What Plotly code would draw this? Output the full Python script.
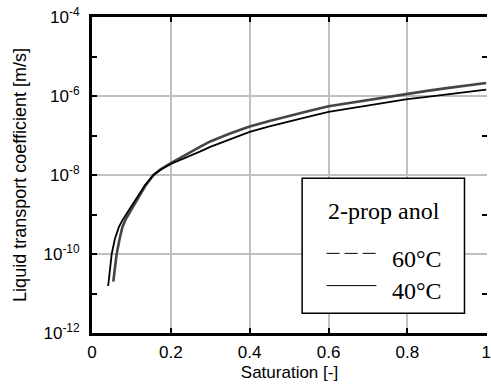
import plotly.graph_objects as go

# Saturation [-] and log10 of liquid transport coefficient [m/s]
sat_40C = [0.041, 0.045, 0.05, 0.058, 0.068, 0.078, 0.088, 0.099, 0.11, 0.12, 0.135, 0.156, 0.175,
           0.2, 0.225, 0.25, 0.275, 0.3, 0.35, 0.4, 0.45, 0.5, 0.55, 0.6, 0.65, 0.7, 0.75, 0.8,
           0.85, 0.9, 0.95, 1.0]
log_k_40C = [-10.81, -10.45, -10.0, -9.62, -9.32, -9.13, -8.98, -8.81, -8.64, -8.48, -8.25, -8.0,
             -7.86, -7.72, -7.62, -7.52, -7.40, -7.29, -7.09, -6.91, -6.77, -6.64, -6.52, -6.40,
             -6.32, -6.24, -6.16, -6.08, -6.02, -5.96, -5.90, -5.84]

sat_60C = [0.054, 0.058, 0.0625, 0.07, 0.077, 0.085, 0.094, 0.103, 0.1125, 0.12, 0.135, 0.156,
           0.175, 0.2, 0.225, 0.25, 0.275, 0.3, 0.35, 0.4, 0.45, 0.5, 0.55, 0.6, 0.65, 0.7, 0.75,
           0.8, 0.85, 0.9, 0.95, 1.0]
log_k_60C = [-10.70, -10.35, -10.0, -9.62, -9.32, -9.13, -8.98, -8.80, -8.64, -8.52, -8.28, -8.0,
             -7.85, -7.70, -7.55, -7.42, -7.28, -7.15, -6.95, -6.77, -6.63, -6.50, -6.38, -6.26,
             -6.18, -6.10, -6.02, -5.94, -5.87, -5.80, -5.73, -5.67]

x_ticks = [0, 0.2, 0.4, 0.6, 0.8, 1.0]
x_ticktext = ["0", "0.2", "0.4", "0.6", "0.8", "1"]
y_major_exp = [-12, -10, -8, -6, -4]
y_minor_exp = [-11, -9, -7, -5]

legend_title = "2-prop anol"
legend_labels = ["60°C", "40°C"]

k_40C = [10 ** e for e in log_k_40C]
k_60C = [10 ** e for e in log_k_60C]

fig = go.Figure()
fig.add_trace(go.Scatter(x=sat_60C, y=k_60C, mode="lines",
                         line=dict(color="#454545", width=2.6), showlegend=False))
fig.add_trace(go.Scatter(x=sat_40C, y=k_40C, mode="lines",
                         line=dict(color="#000000", width=1.8), showlegend=False))
# dummy trace for right-hand minor ticks axis
fig.add_trace(go.Scatter(x=[None], y=[None], yaxis="y2", showlegend=False))

font_sans = "Arial, Liberation Sans, sans-serif"
font_serif = "Times New Roman, Liberation Serif, serif"

fig.update_layout(
    width=491, height=389,
    margin=dict(l=92, r=0, t=17, b=56),
    paper_bgcolor="white", plot_bgcolor="white",
    font=dict(family=font_sans, size=16, color="black"),
    xaxis=dict(
        range=[0, 1.002], tickvals=x_ticks, ticktext=x_ticktext,
        showgrid=True, gridcolor="#c0c0c0", gridwidth=2,
        zeroline=False, showline=True, linecolor="black", linewidth=3,
        mirror="ticks", ticks="inside", ticklen=5, tickcolor="black", tickwidth=1.5,
        ticklabelstandoff=2, ticklabeloverflow="allow",
        title=dict(text="Saturation [-]", font=dict(size=17), standoff=5),
        tickfont=dict(size=17),
    ),
    yaxis=dict(
        type="log", range=[-12, -4],
        tickvals=[10 ** e for e in y_major_exp],
        ticktext=["10<sup>%d</sup>" % e for e in y_major_exp],
        showgrid=True, gridcolor="#c0c0c0", gridwidth=2,
        zeroline=False, showline=True, linecolor="black", linewidth=3,
        ticks="inside", ticklen=5, tickcolor="black", tickwidth=1.5,
        ticklabelstandoff=6,
        minor=dict(tickmode="array", tickvals=[10 ** e for e in y_minor_exp],
                   ticks="inside", ticklen=5, tickcolor="black", tickwidth=1.5,
                   showgrid=False),
        title=dict(text="Liquid transport coefficient [m/s]", font=dict(size=18), standoff=13),
        tickfont=dict(size=17),
    ),
    yaxis2=dict(
        type="log", range=[-12, -4], overlaying="y", side="right",
        tickvals=[10 ** e for e in y_minor_exp], showticklabels=False,
        ticks="inside", ticklen=5, tickcolor="black", tickwidth=1.5,
        showgrid=False, zeroline=False, showline=False,
    ),
)

# legend box
fig.add_shape(type="rect", xref="paper", yref="paper", x0=0.532, x1=0.943, y0=0.0623, y1=0.4896,
              line=dict(color="black", width=1.5), fillcolor="white", layer="above")
fig.add_annotation(xref="paper", yref="paper", x=0.7386, y=0.387, text=legend_title,
                   showarrow=False, xanchor="center", yanchor="middle",
                   font=dict(family=font_serif, size=24, color="black"))
fig.add_shape(type="line", xref="paper", yref="paper", x0=0.594, x1=0.72, y0=0.252, y1=0.252,
              line=dict(color="black", width=1, dash="13px,5px"), layer="above")
fig.add_shape(type="line", xref="paper", yref="paper", x0=0.594, x1=0.72, y0=0.150, y1=0.150,
              line=dict(color="black", width=1), layer="above")
for lab, yy in zip(legend_labels, [0.233, 0.134]):
    fig.add_annotation(xref="paper", yref="paper", x=0.755, y=yy, text=lab,
                       showarrow=False, xanchor="left", yanchor="middle",
                       font=dict(family=font_serif, size=24, color="black"))

fig.write_html("out.html")
